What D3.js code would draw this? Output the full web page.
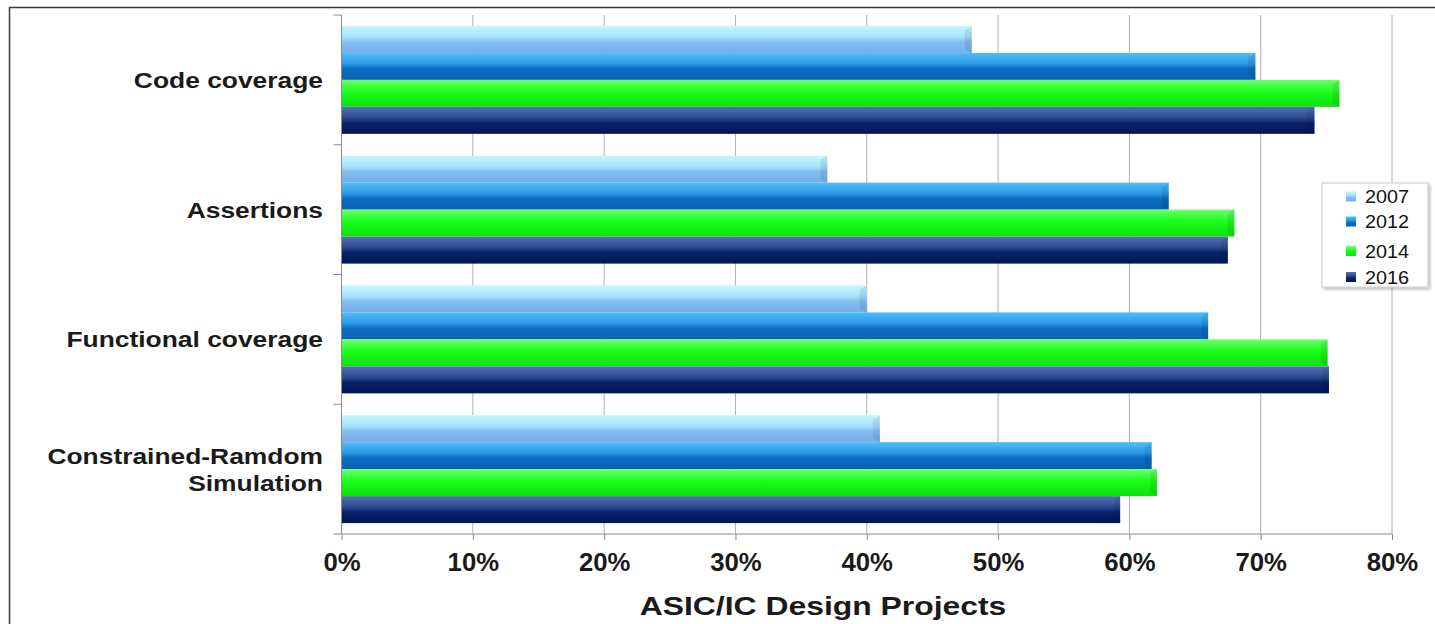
<!DOCTYPE html>
<html>
<head>
<meta charset="utf-8">
<script src="https://cdn.jsdelivr.net/npm/d3@7"></script>
<style>
  html, body { margin: 0; padding: 0; background: #fff; }
  svg { display: block; }
  text { font-family: "Liberation Sans", Arial, sans-serif; }
</style>
</head>
<body>
<svg id="chart" width="1435" height="624"></svg>
<script>
// Verification techniques adopted by ASIC/IC design projects, by survey year
const categories = ["Code coverage", "Assertions", "Functional coverage", "Constrained-Ramdom\nSimulation"];
const years = ["2007", "2012", "2014", "2016"];
const values2007 = [48, 37, 40, 41];
const values2012 = [69.6, 63, 66, 61.7];
const values2014 = [76, 68, 75.1, 62.1];
const values2016 = [74.1, 67.5, 75.2, 59.3];
const xTicks = [0, 10, 20, 30, 40, 50, 60, 70, 80];
const xTitle = "ASIC/IC Design Projects";

const seriesValues = [values2007, values2012, values2014, values2016];

// gradient stops per series: [top, upper-mid, lower-mid, bottom]
const seriesShades = [
  ["#c8f6ff", "#a6e2fd", "#84bdf0", "#73aee8"],
  ["#52bdf8", "#2a98e6", "#0b6cc2", "#0a62b4"],
  ["#6cff6c", "#22ff22", "#14f514", "#10e010"],
  ["#5672b0", "#2c4a92", "#0a2266", "#001758"]
];

const svg = d3.select("#chart");
const W = 1435, H = 624;
const plot = { left: 341.5, right: 1392, top: 15, bottom: 534 };

const x = d3.scaleLinear().domain([0, 80]).range([plot.left, plot.right]);
const yGroup = d3.scaleBand().domain(categories).range([plot.top, plot.bottom])
  .paddingInner(0.168).paddingOuter(0.084);
const ySeries = d3.scaleBand().domain(years).range([0, yGroup.bandwidth()]).padding(0);

// gradients
const defs = svg.append("defs");
seriesShades.forEach((s, i) => {
  const g = defs.append("linearGradient").attr("id", "grad" + i)
    .attr("x1", 0).attr("y1", 0).attr("x2", 0).attr("y2", 1);
  g.append("stop").attr("offset", "0%").attr("stop-color", s[0]);
  g.append("stop").attr("offset", "40%").attr("stop-color", s[1]);
  g.append("stop").attr("offset", "60%").attr("stop-color", s[2]);
  g.append("stop").attr("offset", "100%").attr("stop-color", s[3]);
});
const shadow = defs.append("filter").attr("id", "legendShadow")
  .attr("x", "-10%").attr("y", "-10%").attr("width", "130%").attr("height", "130%");
shadow.append("feDropShadow").attr("dx", 2).attr("dy", 2).attr("stdDeviation", 1.5)
  .attr("flood-color", "#000").attr("flood-opacity", 0.25);

// outer frame
svg.append("rect").attr("x", 9.5).attr("y", 7.5).attr("width", W).attr("height", H)
  .attr("fill", "none").attr("stroke", "#3a3a3a").attr("stroke-width", 1.5);

// vertical gridlines
svg.append("g").selectAll("line").data(xTicks.filter(d => d > 0)).join("line")
  .attr("x1", d => x(d)).attr("x2", d => x(d))
  .attr("y1", plot.top).attr("y2", plot.bottom)
  .attr("stroke", "#b0b0b0").attr("stroke-width", 1);

// bars
const groups = svg.append("g").selectAll("g").data(categories).join("g")
  .attr("transform", c => `translate(0,${yGroup(c)})`);
groups.each(function (c, ci) {
  const rows = years.map((yr, si) => ({ yr, si, v: seriesValues[si][ci] }));
  d3.select(this).selectAll("rect").data(rows).join("rect")
    .attr("x", x(0))
    .attr("y", d => ySeries(d.yr))
    .attr("width", d => x(d.v) - x(0))
    .attr("height", ySeries.bandwidth())
    .attr("fill", d => `url(#grad${d.si})`);
  // bevelled end of each bar
  d3.select(this).selectAll("path.cap").data(rows).join("path").attr("class", "cap")
    .attr("d", d => {
      const xe = x(d.v), y0 = ySeries(d.yr), h = ySeries.bandwidth();
      return `M${xe - 7},${y0 + 4} L${xe},${y0} L${xe},${y0 + h} L${xe - 7},${y0 + h - 4} Z`;
    })
    .attr("fill", "#000").attr("opacity", 0.08);
});

// category axis (left)
svg.append("line").attr("x1", plot.left).attr("x2", plot.left)
  .attr("y1", plot.top).attr("y2", plot.bottom)
  .attr("stroke", "#8c8c8c").attr("stroke-width", 1);
const bounds = categories.map(c => yGroup(c) - yGroup.step() * yGroup.paddingInner() / 2)
  .concat([plot.bottom]);
svg.append("g").selectAll("line").data(bounds).join("line")
  .attr("x1", plot.left - 8).attr("x2", plot.left)
  .attr("y1", d => d).attr("y2", d => d)
  .attr("stroke", "#8c8c8c");

svg.append("g").selectAll("text").data(categories).join("text")
  .attr("transform", c => `translate(323,${yGroup(c) + yGroup.bandwidth() / 2}) scale(1.2,1)`)
  .attr("text-anchor", "end")
  .attr("font-size", 22).attr("font-weight", "bold").attr("fill", "#1a1a1a")
  .each(function (c) {
    const lines = c.split("\n");
    const lh = 27;
    d3.select(this).selectAll("tspan").data(lines).join("tspan")
      .attr("x", 0)
      .attr("y", (d, i) => (i - (lines.length - 1) / 2) * lh)
      .attr("dy", "0.36em")
      .text(d => d);
  });

// value axis (bottom)
const xAxis = d3.axisBottom(x).tickValues(xTicks).tickFormat(d => d + "%").tickSize(6);
const ax = svg.append("g").attr("transform", `translate(0,${plot.bottom})`).call(xAxis);
ax.select(".domain").attr("stroke", "#8c8c8c").attr("d", `M${plot.left},0H${plot.right}`);
ax.selectAll(".tick line").attr("stroke", "#8c8c8c");
ax.selectAll(".tick text")
  .attr("y", 0).attr("dy", 0)
  .attr("transform", "translate(0,37) scale(1.03,1)")
  .attr("font-size", 25).attr("font-weight", "bold")
  .attr("fill", "#1a1a1a").attr("font-family", "'Liberation Sans', Arial, sans-serif");

svg.append("text")
  .attr("transform", "translate(823,615) scale(1.25,1)")
  .attr("text-anchor", "middle").attr("font-size", 25.5).attr("font-weight", "bold")
  .attr("fill", "#1a1a1a").text(xTitle);

// legend
const legend = svg.append("g").attr("transform", "translate(1322,183)");
legend.append("rect").attr("width", 106).attr("height", 104)
  .attr("fill", "#fff").attr("stroke", "#c8c8c8").attr("filter", "url(#legendShadow)");
const rowY = [13.5, 38.5, 68, 94];
const items = legend.selectAll("g").data(years).join("g")
  .attr("transform", (d, i) => `translate(24,${rowY[i]})`);
items.append("rect").attr("x", 0).attr("y", -5).attr("width", 10).attr("height", 10)
  .attr("fill", (d, i) => `url(#grad${i})`);
items.append("text").attr("transform", "translate(19,0) scale(1.07,1)").attr("dy", "0.36em")
  .attr("font-size", 18.5).attr("fill", "#111").text(d => d);
</script>
</body>
</html>
